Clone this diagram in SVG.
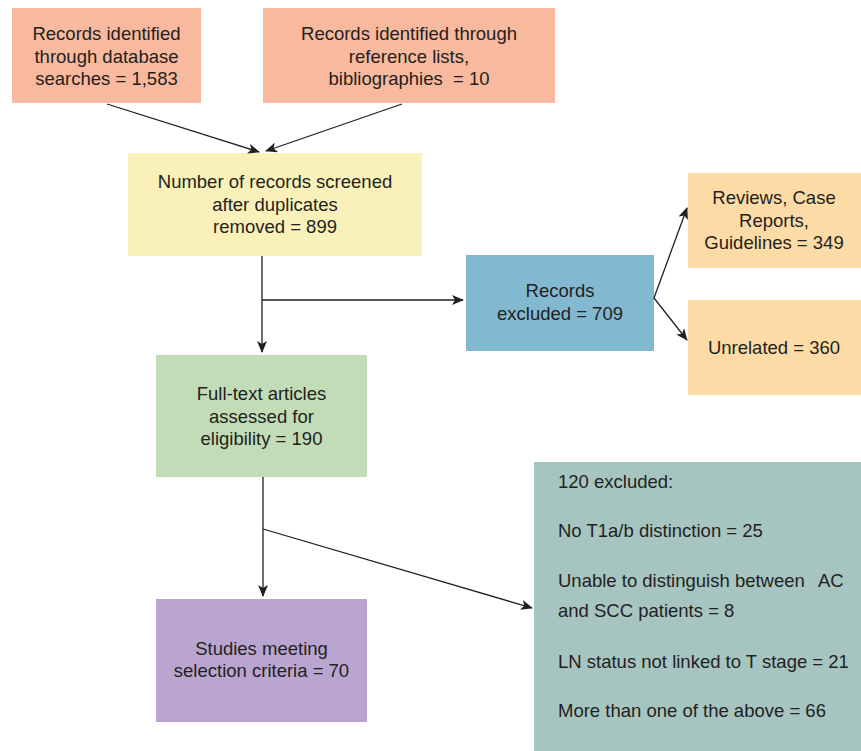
<svg xmlns="http://www.w3.org/2000/svg" width="861" height="751" viewBox="0 0 861 751">
<style>
text{font-family:"Liberation Sans",Arial,sans-serif;font-size:18.5px;fill:#231f20}
.c{text-anchor:middle}
.ln{stroke:#231f20;stroke-width:1.3;fill:none}
.a{marker-end:url(#ah)}
</style>
<defs>
<marker id="ah" viewBox="0 0 12 10" refX="11" refY="5" markerWidth="12" markerHeight="10" markerUnits="userSpaceOnUse" orient="auto">
<path d="M0,0 L12,5 L0,10 L3,5 z" fill="#231f20"/>
</marker>
</defs>
<rect width="861" height="751" fill="#ffffff"/>
<g id="db">
<rect x="12" y="8" width="189" height="95" fill="#f8b99e"/>
<text class="c" x="106.5" y="40">Records identified</text>
<text class="c" x="106.5" y="62.5">through database</text>
<text class="c" x="106.5" y="85">searches = 1,583</text>
</g>
<g id="ref">
<rect x="263" y="8" width="292" height="95" fill="#f8b99e"/>
<text class="c" x="409" y="40">Records identified through</text>
<text class="c" x="409" y="62.5">reference lists,</text>
<text class="c" x="409" y="85" xml:space="preserve">bibliographies  = 10</text>
</g>
<g id="screened">
<rect x="128" y="153" width="294" height="103" fill="#faf0b9"/>
<text class="c" x="275" y="188">Number of records screened</text>
<text class="c" x="275" y="210.5">after duplicates</text>
<text class="c" x="275" y="233">removed = 899</text>
</g>
<g id="excluded">
<rect x="466" y="255" width="188" height="96" fill="#82b8d0"/>
<text class="c" x="560" y="297">Records</text>
<text class="c" x="560" y="320">excluded = 709</text>
</g>
<g id="reviews">
<rect x="688" y="173" width="173" height="95" fill="#fddba6"/>
<text class="c" x="774" y="204">Reviews, Case</text>
<text class="c" x="774" y="226.5">Reports,</text>
<text class="c" x="774" y="249">Guidelines = 349</text>
</g>
<g id="unrelated">
<rect x="688" y="300" width="173" height="95" fill="#fddba6"/>
<text class="c" x="774" y="354">Unrelated = 360</text>
</g>
<g id="fulltext">
<rect x="156" y="355" width="211" height="122" fill="#c2dcb7"/>
<text class="c" x="261.5" y="400">Full-text articles</text>
<text class="c" x="261.5" y="422.5">assessed for</text>
<text class="c" x="261.5" y="445">eligibility = 190</text>
</g>
<g id="studies">
<rect x="156" y="599" width="211" height="123" fill="#baa5d0"/>
<text class="c" x="261.5" y="655">Studies meeting</text>
<text class="c" x="261.5" y="677">selection criteria = 70</text>
</g>
<g id="excl120">
<rect x="534" y="462" width="327" height="289" fill="#a6c5c0"/>
<text x="558" y="488">120 excluded:</text>
<text x="558" y="537">No T1a/b distinction = 25</text>
<text x="558" y="587">Unable to distinguish between<tspan x="818">AC</tspan></text>
<text x="558" y="617">and SCC patients = 8</text>
<text x="558" y="668">LN status not linked to T stage = 21</text>
<text x="558" y="717">More than one of the above = 66</text>
</g>
<g id="connectors">
<line class="ln a" x1="107" y1="104" x2="259" y2="152"/>
<line class="ln a" x1="402" y1="104" x2="266" y2="151"/>
<line class="ln a" x1="262" y1="256" x2="262" y2="352"/>
<line class="ln a" x1="262" y1="300" x2="463" y2="300"/>
<line class="ln a" x1="654" y1="298" x2="687" y2="208"/>
<line class="ln a" x1="654" y1="298" x2="687" y2="340"/>
<line class="ln a" x1="263" y1="477" x2="263" y2="596"/>
<line class="ln a" x1="263" y1="529" x2="532" y2="608"/>
</g>
</svg>
